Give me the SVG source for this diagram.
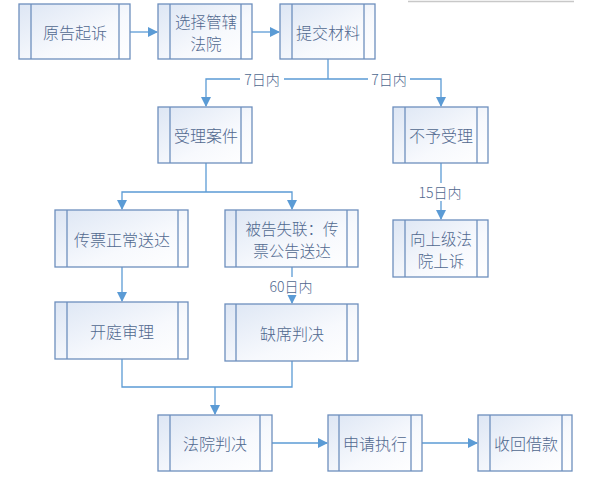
<svg xmlns="http://www.w3.org/2000/svg" width="599" height="484" viewBox="0 0 599 484">
<defs>
<linearGradient id="g" x1="0" y1="0" x2="1" y2="1">
<stop offset="0" stop-color="#dde6f4"/>
<stop offset="0.6" stop-color="#f7f9fd"/>
<stop offset="1" stop-color="#ffffff"/>
</linearGradient>
<marker id="a" viewBox="0 0 10 10" refX="9" refY="5" markerWidth="10" markerHeight="10" markerUnits="userSpaceOnUse" orient="auto">
<path d="M0,0 L10,5 L0,10 Z" fill="#5b9bd5"/>
</marker>
</defs>
<style>
.box{fill:url(#g);stroke:#6d8fbd;stroke-width:1.3}
.in{stroke:#6d8fbd;stroke-width:1.3}
.t{font-family:"Noto Sans CJK SC","Noto Sans",sans-serif;font-size:16px;font-weight:300;fill:#50688f;text-anchor:middle;dominant-baseline:central}
.t2{font-size:15.5px}
.c{fill:none;stroke:#5b9bd5;stroke-width:1.3}
.l{font-family:"Noto Sans CJK SC","Liberation Sans",sans-serif;font-size:14px;font-weight:300;fill:#50688f;text-anchor:middle;dominant-baseline:central}
.lb{fill:#ffffff}
</style>
<rect width="599" height="484" fill="#ffffff"/>
<line x1="408" y1="1.5" x2="574" y2="1.5" stroke="#c8c8c8" stroke-width="1.5"/>

<g id="connectors">
<path class="c" d="M130,32 H157" marker-end="url(#a)"/>
<path class="c" d="M252,32 H279" marker-end="url(#a)"/>
<path class="c" d="M328,59 V79"/>
<path class="c" d="M328,79 H206 V106" marker-end="url(#a)"/>
<path class="c" d="M328,79 H441 V106" marker-end="url(#a)"/>
<rect class="lb" x="240" y="70" width="44" height="18"/>
<text class="l" x="262" y="79">7日内</text>
<rect class="lb" x="368" y="70" width="42" height="18"/>
<text class="l" x="389" y="79">7日内</text>
<path class="c" d="M441,163 V219" marker-end="url(#a)"/>
<rect class="lb" x="414" y="183" width="52" height="18"/>
<text class="l" x="440" y="192">15日内</text>
<path class="c" d="M206,163 V192"/>
<path class="c" d="M206,192 H122 V209" marker-end="url(#a)"/>
<path class="c" d="M206,192 H292 V209" marker-end="url(#a)"/>
<path class="c" d="M122,267 V301" marker-end="url(#a)"/>
<path class="c" d="M292,267 V303" marker-end="url(#a)"/>
<rect class="lb" x="264" y="277" width="54" height="18"/>
<text class="l" x="291" y="286">60日内</text>
<path class="c" d="M122,359 V387 H292 V361"/>
<path class="c" d="M215,387 V414" marker-end="url(#a)"/>
<path class="c" d="M272,443 H327" marker-end="url(#a)"/>
<path class="c" d="M422,443 H477" marker-end="url(#a)"/>
</g>

<g id="n1">
<rect class="box" x="19" y="4" width="111" height="55"/>
<line class="in" x1="31" y1="4" x2="31" y2="59"/><line class="in" x1="119" y1="4" x2="119" y2="59"/>
<text class="t" x="75" y="32">原告起诉</text>
</g>
<g id="n2">
<rect class="box" x="158" y="4" width="94" height="55"/>
<line class="in" x1="170" y1="4" x2="170" y2="59"/><line class="in" x1="241" y1="4" x2="241" y2="59"/>
<text class="t t2" x="206" y="20.5">选择管辖</text>
<text class="t t2" x="206" y="43">法院</text>
</g>
<g id="n3">
<rect class="box" x="280" y="4" width="95" height="55"/>
<line class="in" x1="292" y1="4" x2="292" y2="59"/><line class="in" x1="364" y1="4" x2="364" y2="59"/>
<text class="t" x="328" y="32">提交材料</text>
</g>
<g id="n4">
<rect class="box" x="158" y="107" width="94" height="56"/>
<line class="in" x1="170" y1="107" x2="170" y2="163"/><line class="in" x1="241" y1="107" x2="241" y2="163"/>
<text class="t" x="206" y="135">受理案件</text>
</g>
<g id="n5">
<rect class="box" x="393" y="107" width="95" height="56"/>
<line class="in" x1="405" y1="107" x2="405" y2="163"/><line class="in" x1="477" y1="107" x2="477" y2="163"/>
<text class="t" x="441" y="135">不予受理</text>
</g>
<g id="n6">
<rect class="box" x="393" y="220" width="95" height="57"/>
<line class="in" x1="405" y1="220" x2="405" y2="277"/><line class="in" x1="477" y1="220" x2="477" y2="277"/>
<text class="t t2" x="441" y="237.5">向上级法</text>
<text class="t t2" x="441" y="260">院上诉</text>
</g>
<g id="n7">
<rect class="box" x="55" y="210" width="133" height="57"/>
<line class="in" x1="67" y1="210" x2="67" y2="267"/><line class="in" x1="178" y1="210" x2="178" y2="267"/>
<text class="t" x="122" y="239">传票正常送达</text>
</g>
<g id="n8">
<rect class="box" x="225" y="210" width="133" height="57"/>
<line class="in" x1="236" y1="210" x2="236" y2="267"/><line class="in" x1="347" y1="210" x2="347" y2="267"/>
<text class="t t2" x="292" y="227.5">被告失联：传</text>
<text class="t t2" x="292" y="250">票公告送达</text>
</g>
<g id="n9">
<rect class="box" x="55" y="302" width="133" height="57"/>
<line class="in" x1="67" y1="302" x2="67" y2="359"/><line class="in" x1="178" y1="302" x2="178" y2="359"/>
<text class="t" x="122" y="331">开庭审理</text>
</g>
<g id="n10">
<rect class="box" x="225" y="304" width="133" height="57"/>
<line class="in" x1="236" y1="304" x2="236" y2="361"/><line class="in" x1="347" y1="304" x2="347" y2="361"/>
<text class="t" x="292" y="333">缺席判决</text>
</g>
<g id="n11">
<rect class="box" x="158" y="415" width="114" height="56"/>
<line class="in" x1="170" y1="415" x2="170" y2="471"/><line class="in" x1="260" y1="415" x2="260" y2="471"/>
<text class="t" x="215" y="443">法院判决</text>
</g>
<g id="n12">
<rect class="box" x="328" y="415" width="94" height="56"/>
<line class="in" x1="339" y1="415" x2="339" y2="471"/><line class="in" x1="411" y1="415" x2="411" y2="471"/>
<text class="t" x="375" y="443">申请执行</text>
</g>
<g id="n13">
<rect class="box" x="478" y="415" width="94" height="56"/>
<line class="in" x1="490" y1="415" x2="490" y2="471"/><line class="in" x1="562" y1="415" x2="562" y2="471"/>
<text class="t" x="526" y="443">收回借款</text>
</g>
</svg>
